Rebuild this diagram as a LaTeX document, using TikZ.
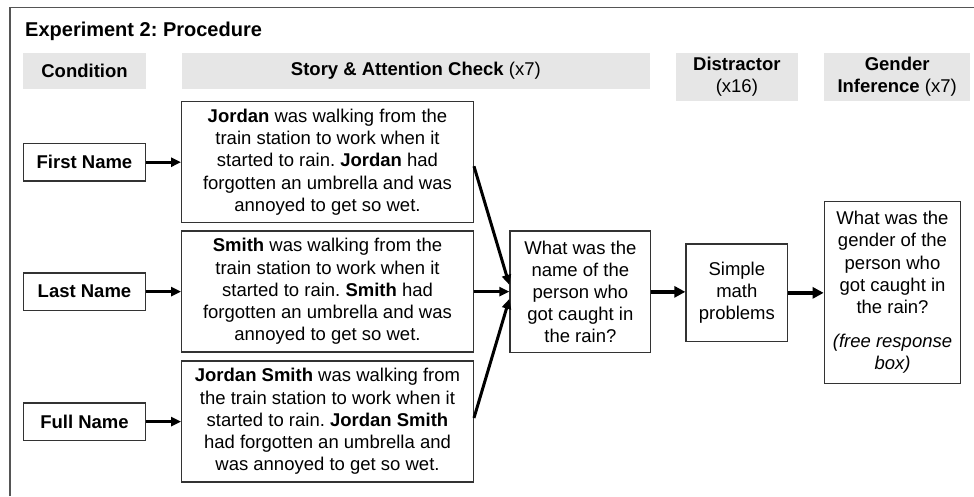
\documentclass[tikz,border=0pt]{standalone}
\usepackage{fontspec}
\setmainfont{Liberation Sans}
\usetikzlibrary{arrows.meta,calc}
\definecolor{hdrgray}{HTML}{E6E6E6}
\definecolor{boxc}{HTML}{333333}
\definecolor{framec}{HTML}{555555}
\frenchspacing
\begin{document}
\begin{tikzpicture}[x=1pt,y=-1pt,
  txt/.style={font=\fontsize{18.5}{22.2}\selectfont, align=center, inner sep=0pt},
  hdr/.style={txt, fill=hdrgray, draw=none},
  box/.style={txt, draw=boxc, line width=1.3pt},
  arr/.style={line width=3pt, -{Triangle[length=10pt,width=9pt]}},
  arrb/.style={line width=3.6pt, -{Triangle[length=11pt,width=11pt]}}
]
\useasboundingbox (0,0) rectangle (974,496);
\draw[framec, line width=1.5pt] (10,496) -- (10,7.3) -- (974,7.3);

\node[anchor=base west, inner sep=0pt, font=\fontsize{20}{24}\selectfont\bfseries] (title) at (25,36) {Experiment 2: Procedure};

% headers
\node[hdr, minimum width=122.4pt, minimum height=36.3pt] (hc) at (84.5,70.9) {\textbf{Condition}};
\node[hdr, minimum width=468.3pt, minimum height=36.3pt] (hs) at (415.85,70.9) {\textbf{Story \& Attention Check} (x7)};
\node[hdr, minimum width=121.7pt, minimum height=48.3pt] (hd) at (736.85,76.85) {\textbf{Distractor}\\(x16)};
\node[hdr, minimum width=145.7pt, minimum height=48.3pt] (hg) at (897.15,76.85) {\textbf{Gender}\\\textbf{Inference} (x7)};

% condition boxes
\node[box, minimum width=122.4pt, minimum height=37.4pt] (c1) at (84.5,162.2) {\textbf{First Name}};
\node[box, minimum width=122.4pt, minimum height=37.4pt] (c2) at (84.5,291.6) {\textbf{Last Name}};
\node[box, minimum width=122.4pt, minimum height=37.4pt] (c3) at (84.5,421.6) {\textbf{Full Name}};

% story boxes
\node[box, minimum width=291.6pt, minimum height=121pt] (s1) at (327.5,162.2)
 {\textbf{Jordan} was walking from the\\train station to work when it\\started to rain. \textbf{Jordan} had\\forgotten an umbrella and was\\annoyed to get so wet.};
\node[box, minimum width=291.6pt, minimum height=121pt] (s2) at (327.5,291.6)
 {\textbf{Smith} was walking from the\\train station to work when it\\started to rain. \textbf{Smith} had\\forgotten an umbrella and was\\annoyed to get so wet.};
\node[box, minimum width=291.6pt, minimum height=121pt] (s3) at (327.5,421.5)
 {\textbf{Jordan Smith} was walking from\\the train station to work when it\\started to rain. \textbf{Jordan Smith}\\had forgotten an umbrella and\\was annoyed to get so wet.};

% question, math, gender
\node[box, minimum width=140.7pt, minimum height=121.7pt] (q) at (580.35,291.85)
 {What was the\\name of the\\person who\\got caught in\\the rain?};
\node[box, minimum width=101.7pt, minimum height=97.7pt] (m) at (736.85,292.85)
 {Simple\\math\\problems};
\node[box, minimum width=136.4pt, minimum height=181.6pt] (g) at (892.5,292.5)
 {What was the\\gender of the\\person who\\got caught in\\the rain?\\[12pt]\textit{(free response}\\\textit{box)}};

% connectors
\draw[arr] (c1.east) -- (c1.east -| s1.west);
\draw[arr] (c2.east) -- (c2.east -| s2.west);
\draw[arr] (c3.east) -- (c3.east -| s3.west);
\draw[arr] ([yshift=-4pt]s1.east) -- ([yshift=7pt]q.west);
\draw[arr] (s2.east) -- (s2.east -| q.west);
\draw[arr] ([yshift=3.5pt]s3.east) -- ([yshift=-7pt]q.west);
\draw[arrb] (q.east) -- (q.east -| m.west);
\draw[arrb] (m.east) -- (m.east -| g.west);
\end{tikzpicture}
\end{document}
